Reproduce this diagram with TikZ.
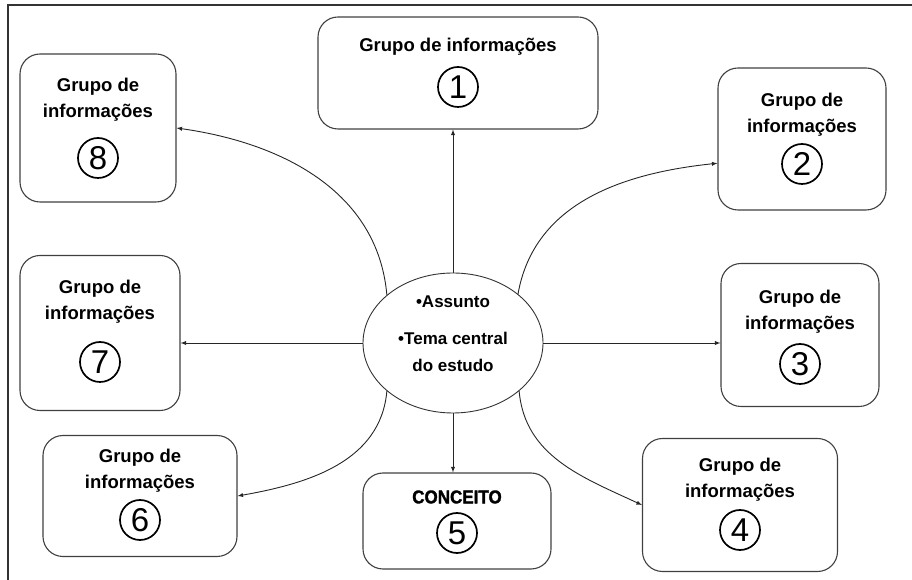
\documentclass[tikz,border=0pt]{standalone}
\usepackage{fontspec}
\setmainfont{Liberation Sans}
\newfontfamily\heavyfont{Liberation Sans}[BoldFeatures={FakeBold=1.6, FakeStretch=0.92}]
\usetikzlibrary{arrows, shapes.geometric}

\begin{document}
\begin{tikzpicture}[x=1pt, y=1pt,
    box/.style={rectangle, draw=black!75, line width=1.1pt, rounded corners=20pt},
    title/.style={font=\bfseries\fontsize{18.5}{26}\selectfont, align=center, inner sep=0pt},
    num/.style={circle, draw=black, line width=1.7pt, minimum size=40pt, inner sep=0pt, font=\fontsize{33}{33}\selectfont},
    hub/.style={ellipse, draw=black!80, line width=0.9pt, minimum width=180pt, minimum height=140pt, inner sep=0pt},
    link/.style={->, >=latex, line width=0.9pt, black!85}]
    \useasboundingbox (0,0) rectangle (912,580);
    \clip (0,0) rectangle (912,580);
    % outer frame
    \draw[line width=1.1pt, black!80] (8,0) -- (8,575) -- (912,575);

    % centre
    \node[hub] (e) at (453,237) {};
    \node[font=\bfseries\fontsize{17}{27}\selectfont, align=center, inner sep=0pt] (et) at (453,246)
        {\textbullet Assunto\\[10pt]\textbullet Tema central\\do estudo};

    % groups
    \node[box, minimum width=280pt, minimum height=112pt] (g1) at (458,507) {};
    \node[title] (t1) at (458,533) {Grupo de informações};
    \node[num] (n1) at (458,493) {1};

    \node[box, minimum width=168pt, minimum height=142pt] (g2) at (802,441) {};
    \node[title] (t2) at (802,465) {Grupo de\\informações};
    \node[num] (n2) at (802,416) {2};

    \node[box, minimum width=158pt, minimum height=143pt] (g3) at (800,245) {};
    \node[title] (t3) at (800,268) {Grupo de\\informações};
    \node[num] (n3) at (800,216) {3};

    \node[box, minimum width=195pt, minimum height=133pt] (g4) at (740,75) {};
    \node[title] (t4) at (740,100) {Grupo de\\informações};
    \node[num] (n4) at (740,50) {4};

    \node[box, minimum width=188pt, minimum height=96pt] (g5) at (457,59) {};
    \node[title, font=\heavyfont\bfseries\fontsize{18.5}{26}\selectfont] (t5) at (457,83) {CONCEITO};
    \node[num] (n5) at (457,47) {5};

    \node[box, minimum width=194pt, minimum height=121pt] (g6) at (140,84) {};
    \node[title] (t6) at (140,109) {Grupo de\\informações};
    \node[num] (n6) at (140,60) {6};

    \node[box, minimum width=160pt, minimum height=155pt] (g7) at (100,247) {};
    \node[title] (t7) at (100,278) {Grupo de\\informações};
    \node[num] (n7) at (100,218) {7};

    \node[box, minimum width=156pt, minimum height=148pt] (g8) at (98,452) {};
    \node[title] (t8) at (98,480) {Grupo de\\informações};
    \node[num] (n8) at (98,422) {8};

    % connectors
    \draw[link] (e.north) -- (e.north |- g1.south);
    \draw[link] (e.37) to[out=80, in=186] (g2.196);
    \draw[link] (e.east) -- (e.east -| g3.west);
    \draw[link] (e.324) to[out=-85, in=155] (g4.west);
    \draw[link] (e.south) -- (e.south |- g5.north);
    \draw[link] (e.216) to[out=-95, in=10] (g6.east);
    \draw[link] (e.west) -- (e.west -| g7.east);
    \draw[link] (e.144) to[out=95, in=-8] (g8.east);
\end{tikzpicture}
\end{document}
